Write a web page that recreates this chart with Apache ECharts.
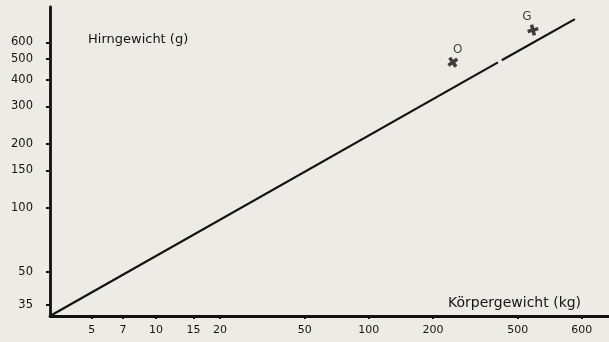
<!DOCTYPE html>
<html>
<head>
<meta charset="utf-8">
<script src="https://cdn.jsdelivr.net/npm/echarts@6/dist/echarts.min.js"></script>
<style>
html,body{margin:0;padding:0;background:#ecebe6;}
#c{width:609px;height:342px;}
</style>
</head>
<body>
<div id="c"></div>
<script>
// Tick values (data units) and printed labels
const xTickValues = [5, 7, 10, 15, 20, 50, 100, 200, 500, 1000];
const xTickLabels = ['5', '7', '10', '15', '20', '50', '100', '200', '500', '600'];
const yTickValues = [35, 50, 100, 150, 200, 300, 400, 500, 600];
const yTickLabels = ['35', '50', '100', '150', '200', '300', '400', '500', '600'];
// Axis extents (data units)
const xRange = [3.18, 1343];
const yRange = [31.1, 879];
// Regression line (drawn with a small gap)
const lineSegment1 = [[3.18, 31.1], [404, 483]];
const lineSegment2 = [[421, 494], [929, 771]];
// Marked animals
const pointNames = ['O', 'G'];
const pointBody = [248, 590];
const pointBrain = [484, 685];

const L = v => Math.log10(v);
const fmt = (vals, labels) => v => {
  for (let i = 0; i < vals.length; i++) if (Math.abs(L(vals[i]) - v) < 1e-6) return labels[i];
  return '';
};

const chart = echarts.init(document.getElementById('c'));
const ink = '#111111';
const txt = '#141414';
const txtFont = 'DejaVu Sans';

chart.setOption({
  backgroundColor: '#ecebe6',
  animation: false,
  grid: { left: 50, right: 0, top: 7, bottom: 26 },
  xAxis: {
    type: 'value',
    min: L(xRange[0]), max: L(xRange[1]),
    axisLine: { lineStyle: { color: ink, width: 2.8 } },
    axisTick: { show: true, customValues: xTickValues.map(L), length: 3, lineStyle: { color: ink, width: 2 } },
    axisLabel: { customValues: xTickValues.map(L), formatter: fmt(xTickValues, xTickLabels), margin: 9,
      color: txt, fontSize: 11, fontFamily: txtFont },
    splitLine: { show: false }
  },
  yAxis: {
    type: 'value',
    min: L(yRange[0]), max: L(yRange[1]),
    axisLine: { show: true, lineStyle: { color: ink, width: 2.8 } },
    axisTick: { show: true, customValues: yTickValues.map(L), length: 4, lineStyle: { color: ink, width: 2 } },
    axisLabel: { customValues: yTickValues.map(L), formatter: fmt(yTickValues, yTickLabels), margin: 17,
      color: txt, fontSize: 11.5, fontFamily: txtFont },
    splitLine: { show: false }
  },
  graphic: [
    { type: 'text', left: 88, top: 33, style: { text: 'Hirngewicht (g)', fill: txt, font: '13px "DejaVu Sans"' } },
    { type: 'text', left: 448, top: 296, style: { text: 'Körpergewicht (kg)', fill: txt, font: '14px "DejaVu Sans"' } }
  ],
  series: [
    { type: 'line', data: lineSegment1.map(p => [L(p[0]), L(p[1])]), showSymbol: false,
      lineStyle: { color: ink, width: 2.2 } },
    { type: 'line', data: lineSegment2.map(p => [L(p[0]), L(p[1])]), showSymbol: false,
      lineStyle: { color: ink, width: 2.2 } },
    { type: 'scatter',
      symbol: 'path://M3.4,0H6.6V3.4H10V6.6H6.6V10H3.4V6.6H0V3.4H3.4Z',
      symbolSize: 11,
      itemStyle: { color: ink },
      data: pointNames.map((n, i) => ({
        value: [L(pointBody[i]), L(pointBrain[i])],
        name: n,
        symbolRotate: i === 0 ? 35 : 15,
        label: { show: true, position: 'top', formatter: n, distance: 0,
          offset: i === 0 ? [5, 1] : [-6, 0],
          color: txt, fontSize: 12, fontFamily: txtFont }
      }))
    }
  ]
});
</script>
</body>
</html>
